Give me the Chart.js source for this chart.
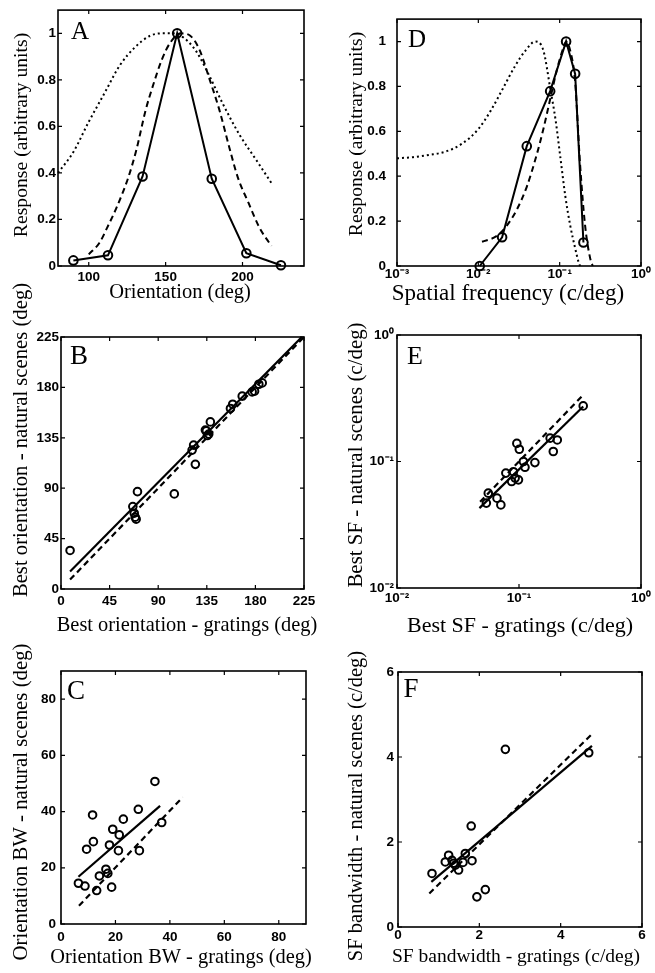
<!DOCTYPE html>
<html><head><meta charset="utf-8">
<script src="https://cdn.jsdelivr.net/npm/chart.js@4.4.1/dist/chart.umd.min.js"></script>
<style>
html,body{margin:0;padding:0;background:#fff;}
#wrap{position:relative;width:655px;height:973px;overflow:hidden;background:#fff;}
canvas{position:absolute;}
</style></head><body><div id="wrap">
<canvas id="cA" width="327" height="310" style="left:0;top:0"></canvas>
<canvas id="cD" width="328" height="310" style="left:327px;top:0"></canvas>
<canvas id="cB" width="327" height="370" style="left:0;top:270px"></canvas>
<canvas id="cE" width="328" height="330" style="left:327px;top:310px"></canvas>
<canvas id="cC" width="327" height="333" style="left:0;top:640px"></canvas>
<canvas id="cF" width="328" height="333" style="left:327px;top:640px"></canvas>
</div>
<script>
// ---------- Panel A: orientation tuning ----------
const oriAngles = [90, 112.5, 135, 157.5, 180, 202.5, 225];
const oriResp   = [0.024, 0.046, 0.385, 1.0, 0.375, 0.055, 0.003];
const oriDashX  = [100, 107, 112, 118, 125.7, 131, 137, 142, 147.4, 153, 160, 166, 172, 178.7, 185, 191, 197, 204, 211, 218.8];
const oriDashY  = [0.05, 0.10, 0.165, 0.25, 0.38, 0.50, 0.67, 0.78, 0.885, 0.96, 1.0, 0.99, 0.93, 0.80, 0.67, 0.52, 0.38, 0.27, 0.165, 0.086];
const oriDotX   = [80, 90, 100, 110, 120, 130, 140, 148, 155, 162, 168, 172, 179, 187, 198, 209, 219];
const oriDotY   = [0.40, 0.49, 0.62, 0.74, 0.86, 0.94, 0.99, 1.0, 1.0, 0.98, 0.94, 0.90, 0.81, 0.70, 0.565, 0.455, 0.355];
const aXTicks = [100, 150, 200];
const aXLabels = ['100', '150', '200'];
const respTicks = [0, 0.2, 0.4, 0.6, 0.8, 1];
const respLabels = ['0', '0.2', '0.4', '0.6', '0.8', '1'];

// ---------- Panel D: spatial frequency tuning ----------
const sfX = [0.0104, 0.0196, 0.0394, 0.0764, 0.12, 0.155, 0.196];
const sfY = [0, 0.128, 0.534, 0.779, 1.0, 0.856, 0.105];
const sfDashX = [0.0111, 0.0169, 0.0224, 0.0298, 0.0395, 0.0524, 0.0633, 0.0764, 0.0923, 0.1114, 0.12, 0.1346, 0.155, 0.178, 0.2055, 0.2366, 0.255];
const sfDashY = [0.108, 0.134, 0.18, 0.252, 0.354, 0.498, 0.613, 0.743, 0.873, 0.974, 1.0, 0.96, 0.82, 0.455, 0.18, 0.036, 0];
const sfDotX = [0.001, 0.00158, 0.00251, 0.00398, 0.00631, 0.01, 0.0141, 0.02, 0.0282, 0.038, 0.0501, 0.0631, 0.0767, 0.0891, 0.1023, 0.1175, 0.1349, 0.1549, 0.17, 0.178];
const sfDotY = [0.48, 0.485, 0.495, 0.51, 0.545, 0.61, 0.69, 0.79, 0.89, 0.96, 1.0, 0.96, 0.79, 0.65, 0.48, 0.31, 0.18, 0.08, 0.02, 0];
const dXTicks = [0.001, 0.01, 0.1, 1];
const dXLabels = ['10\u207B\u00B3', '10\u207B\u00B2', '10\u207B\u00B9', '10\u2070'];

// ---------- Panel B: best orientation ----------
const boGratings = [8.4, 66.5, 67.8, 68.7, 69.6, 70.8, 104.9, 121.4, 122.8, 124.4, 133.7, 134.6, 135.5, 136.8, 138.3, 156.9, 159, 167.8, 177, 179.2, 183.2, 186.3];
const boScenes   = [34.4, 73.6, 67.7, 64.1, 62.3, 86.9, 84.9, 124.0, 128.5, 111.3, 141.9, 141.2, 137, 138.3, 149.2, 161.2, 165, 172.2, 176, 176.6, 182.8, 184];
const boFitX = [8.4, 223];
const boFitY = [15.7, 225];
const boIdX = [8.4, 225];
const boIdY = [8.4, 225];
const bTicks = [0, 45, 90, 135, 180, 225];
const bLabels = ['0', '45', '90', '135', '180', '225'];

// ---------- Panel E: best SF ----------
const bsfGratings = [0.336, 0.18, 0.206, 0.191, 0.096, 0.1006, 0.135, 0.1087, 0.112, 0.078, 0.09, 0.093, 0.099, 0.087, 0.056, 0.054, 0.066, 0.071];
const bsfScenes   = [0.275, 0.153, 0.148, 0.12, 0.139, 0.125, 0.098, 0.1, 0.09, 0.081, 0.083, 0.074, 0.0716, 0.0694, 0.0562, 0.0469, 0.0513, 0.0454];
const bsfFitX = [0.0474, 0.336];
const bsfFitY = [0.0428, 0.272];
const bsfIdX = [0.048, 0.327];
const bsfIdY = [0.048, 0.327];
const eTicks = [0.01, 0.1, 1];
const eLabels = ['10\u207B\u00B2', '10\u207B\u00B9', '10\u2070'];

// ---------- Panel C: orientation bandwidth ----------
const obwGratings = [6.4, 8.8, 9.4, 11.6, 11.9, 13.1, 14.1, 16.5, 17.2, 17.8, 18.6, 19.0, 21.1, 21.4, 22.9, 28.4, 28.8, 34.5, 37.0];
const obwScenes   = [14.5, 13.5, 26.6, 38.8, 29.3, 11.9, 17.1, 19.5, 18.0, 28.1, 13.1, 33.7, 26.1, 31.7, 37.3, 40.8, 26.1, 50.7, 36.1];
const obwFitX = [6.4, 36.4];
const obwFitY = [16.8, 42.0];
const obwIdX = [6.6, 44.7];
const obwIdY = [6.5, 45.1];
const cTicks = [0, 20, 40, 60, 80];
const cLabels = ['0', '20', '40', '60', '80'];

// ---------- Panel F: SF bandwidth ----------
const sbwGratings = [0.836, 1.163, 1.245, 1.328, 1.37, 1.409, 1.49, 1.598, 1.655, 1.80, 1.82, 1.94, 2.147, 2.64, 4.69];
const sbwScenes   = [1.26, 1.53, 1.69, 1.57, 1.50, 1.455, 1.34, 1.52, 1.73, 2.375, 1.56, 0.71, 0.88, 4.18, 4.10];
const sbwFitX = [0.82, 4.77];
const sbwFitY = [1.06, 4.26];
const sbwDashX = [0.77, 4.77];
const sbwDashY = [0.79, 4.54];
const fTicks = [0, 2, 4, 6];
const fLabels = ['0', '2', '4', '6'];

// ---------- helpers ----------
const K = '#000';
const SERIF = '"Liberation Serif", "Times New Roman", serif';
const pts = (xs, ys) => xs.map((x, i) => ({x: x, y: ys[i]}));
function marked(xs, ys) {
  return {data: pts(xs, ys), showLine: true, borderColor: K, borderWidth: 2, pointRadius: 4.3,
    pointBorderWidth: 2, pointBorderColor: K, pointBackgroundColor: 'rgba(0,0,0,0)', clip: false, order: 0};
}
function curve(xs, ys, dash, w) {
  return {data: pts(xs, ys), showLine: true, borderColor: K, borderWidth: w, borderDash: dash,
    pointRadius: 0, cubicInterpolationMode: 'monotone', clip: false, order: 1};
}
function circles(xs, ys) {
  return {data: pts(xs, ys), showLine: false, pointRadius: 3.8, pointBorderWidth: 2,
    pointBorderColor: K, pointBackgroundColor: 'rgba(0,0,0,0)', clip: false};
}
function line(xs, ys, dash) {
  return {data: pts(xs, ys), showLine: true, borderColor: K, borderWidth: 2.2, borderDash: dash,
    pointRadius: 0, clip: false};
}

const framePlugin = {
  id: 'frame',
  afterDatasetsDraw(chart, args, o) {
    const {ctx, chartArea: a} = chart;
    const sx = chart.scales.x, sy = chart.scales.y;
    ctx.save();
    ctx.strokeStyle = K;
    ctx.lineWidth = 1.6;
    ctx.setLineDash([]);
    ctx.strokeRect(a.left, a.top, a.right - a.left, a.bottom - a.top);
    ctx.lineWidth = 1.2;
    const tl = 4;
    ctx.beginPath();
    sx.ticks.forEach(t => {
      const p = sx.getPixelForValue(t.value);
      ctx.moveTo(p, a.bottom); ctx.lineTo(p, a.bottom - tl);
      ctx.moveTo(p, a.top); ctx.lineTo(p, a.top + tl);
    });
    sy.ticks.forEach(t => {
      const p = sy.getPixelForValue(t.value);
      ctx.moveTo(a.left, p); ctx.lineTo(a.left + tl, p);
      ctx.moveTo(a.right, p); ctx.lineTo(a.right - tl, p);
    });
    ctx.stroke();
    ctx.fillStyle = K;
    ctx.textAlign = 'left';
    ctx.textBaseline = 'alphabetic';
    ctx.font = o.letterSize + 'px ' + SERIF;
    ctx.fillText(o.letter, a.left + o.letterPos[0], a.top + o.letterPos[1]);
    ctx.textAlign = 'center';
    ctx.textBaseline = 'middle';
    ctx.font = o.xSize + 'px ' + SERIF;
    ctx.fillText(o.xTitle, o.xPos[0], o.xPos[1]);
    ctx.translate(o.yPos[0], o.yPos[1]);
    ctx.rotate(-Math.PI / 2);
    ctx.font = o.ySize + 'px ' + SERIF;
    ctx.fillText(o.yTitle, 0, 0);
    ctx.restore();
  }
};

function axis(a, dir, size) {
  return {
    type: a.type || 'linear', min: a.min, max: a.max,
    position: dir === 'x' ? 'bottom' : 'left',
    grid: {display: false, drawTicks: false, tickLength: 0},
    border: {display: false},
    title: {display: false},
    afterBuildTicks: s => { s.ticks = a.ticks.map(v => ({value: v})); },
    afterFit: s => { if (dir === 'x') s.height = size; else s.width = size; },
    ticks: {autoSkip: false, maxRotation: 0, minRotation: 0, padding: a.pad, color: K,
      font: {family: '"Liberation Sans", Arial, sans-serif', size: 13.5, weight: 'bold'},
      callback: (v, i) => a.labels[i]}
  };
}

function panel(id, p) {
  const cv = document.getElementById(id);
  const W = cv.width, H = cv.height;
  return new Chart(cv, {
    type: 'scatter',
    data: {datasets: p.datasets},
    options: {
      responsive: false, animation: false, devicePixelRatio: 1,
      layout: {padding: {left: 0, top: p.area[1], right: W - p.area[2], bottom: 0}},
      plugins: {legend: {display: false}, tooltip: {enabled: false}, frame: p.frame},
      scales: {x: axis(p.x, 'x', H - p.area[3]), y: axis(p.y, 'y', p.area[0])}
    },
    plugins: [framePlugin]
  });
}

Chart.defaults.color = K;

panel('cA', {
  area: [58, 10, 304, 266],
  datasets: [marked(oriAngles, oriResp), curve(oriDashX, oriDashY, [6, 4], 2), curve(oriDotX, oriDotY, [2, 3], 2)],
  x: {min: 80, max: 240, ticks: aXTicks, labels: aXLabels, pad: 3},
  y: {min: 0, max: 1.1, ticks: respTicks, labels: respLabels, pad: 2},
  frame: {letter: 'A', letterSize: 25, letterPos: [13, 28.5], xTitle: 'Orientation (deg)', xSize: 20.5, xPos: [180, 293],
    yTitle: 'Response (arbitrary units)', ySize: 19.7, yPos: [22, 135]}
});

panel('cD', {
  area: [70, 11, 314, 266],
  datasets: [marked(sfX, sfY), curve(sfDashX, sfDashY, [6, 4], 2), curve(sfDotX, sfDotY, [2, 3], 2)],
  x: {type: 'logarithmic', min: 0.001, max: 1, ticks: dXTicks, labels: dXLabels, pad: 0},
  y: {min: 0, max: 1.1, ticks: respTicks, labels: respLabels, pad: 11},
  frame: {letter: 'D', letterSize: 25, letterPos: [11, 28], xTitle: 'Spatial frequency (c/deg)', xSize: 23, xPos: [181, 294],
    yTitle: 'Response (arbitrary units)', ySize: 19.7, yPos: [30, 134]}
});

panel('cB', {
  area: [61, 67, 304, 319],
  datasets: [circles(boGratings, boScenes), line(boFitX, boFitY, []), line(boIdX, boIdY, [6, 4])],
  x: {min: 0, max: 225, ticks: bTicks, labels: bLabels, pad: 4},
  y: {min: 0, max: 225, ticks: bTicks, labels: bLabels, pad: 2},
  frame: {letter: 'B', letterSize: 27, letterPos: [9, 26.5], xTitle: 'Best orientation - gratings (deg)', xSize: 20.4, xPos: [187, 356],
    yTitle: 'Best orientation - natural scenes (deg)', ySize: 20.7, yPos: [22, 170]}
});

panel('cE', {
  area: [70, 25, 314, 278],
  datasets: [circles(bsfGratings, bsfScenes), line(bsfFitX, bsfFitY, []), line(bsfIdX, bsfIdY, [6, 4])],
  x: {type: 'logarithmic', min: 0.01, max: 1, ticks: eTicks, labels: eLabels, pad: 2},
  y: {type: 'logarithmic', min: 0.01, max: 1, ticks: eTicks, labels: eLabels, pad: 3},
  frame: {letter: 'E', letterSize: 26, letterPos: [10, 28.5], xTitle: 'Best SF - gratings (c/deg)', xSize: 22, xPos: [193, 316],
    yTitle: 'Best SF - natural scenes (c/deg)', ySize: 20.9, yPos: [30, 145]}
});

panel('cC', {
  area: [61, 31, 306, 284],
  datasets: [circles(obwGratings, obwScenes), line(obwFitX, obwFitY, []), line(obwIdX, obwIdY, [6, 4])],
  x: {min: 0, max: 90, ticks: cTicks, labels: cLabels, pad: 5},
  y: {min: 0, max: 90, ticks: cTicks, labels: cLabels, pad: 5},
  frame: {letter: 'C', letterSize: 27, letterPos: [6, 27.5], xTitle: 'Orientation BW - gratings (deg)', xSize: 20.4, xPos: [181, 318],
    yTitle: 'Orientation BW - natural scenes (deg)', ySize: 20.8, yPos: [22, 162]}
});

panel('cF', {
  area: [71, 32, 315, 287],
  datasets: [circles(sbwGratings, sbwScenes), line(sbwFitX, sbwFitY, []), line(sbwDashX, sbwDashY, [6, 4])],
  x: {min: 0, max: 6, ticks: fTicks, labels: fLabels, pad: 0},
  y: {min: 0, max: 6, ticks: fTicks, labels: fLabels, pad: 4},
  frame: {letter: 'F', letterSize: 27, letterPos: [5.5, 25], xTitle: 'SF bandwidth - gratings (c/deg)', xSize: 19.5, xPos: [189, 317],
    yTitle: 'SF bandwidth - natural scenes (c/deg)', ySize: 20.5, yPos: [30, 166]}
});
</script></body></html>
